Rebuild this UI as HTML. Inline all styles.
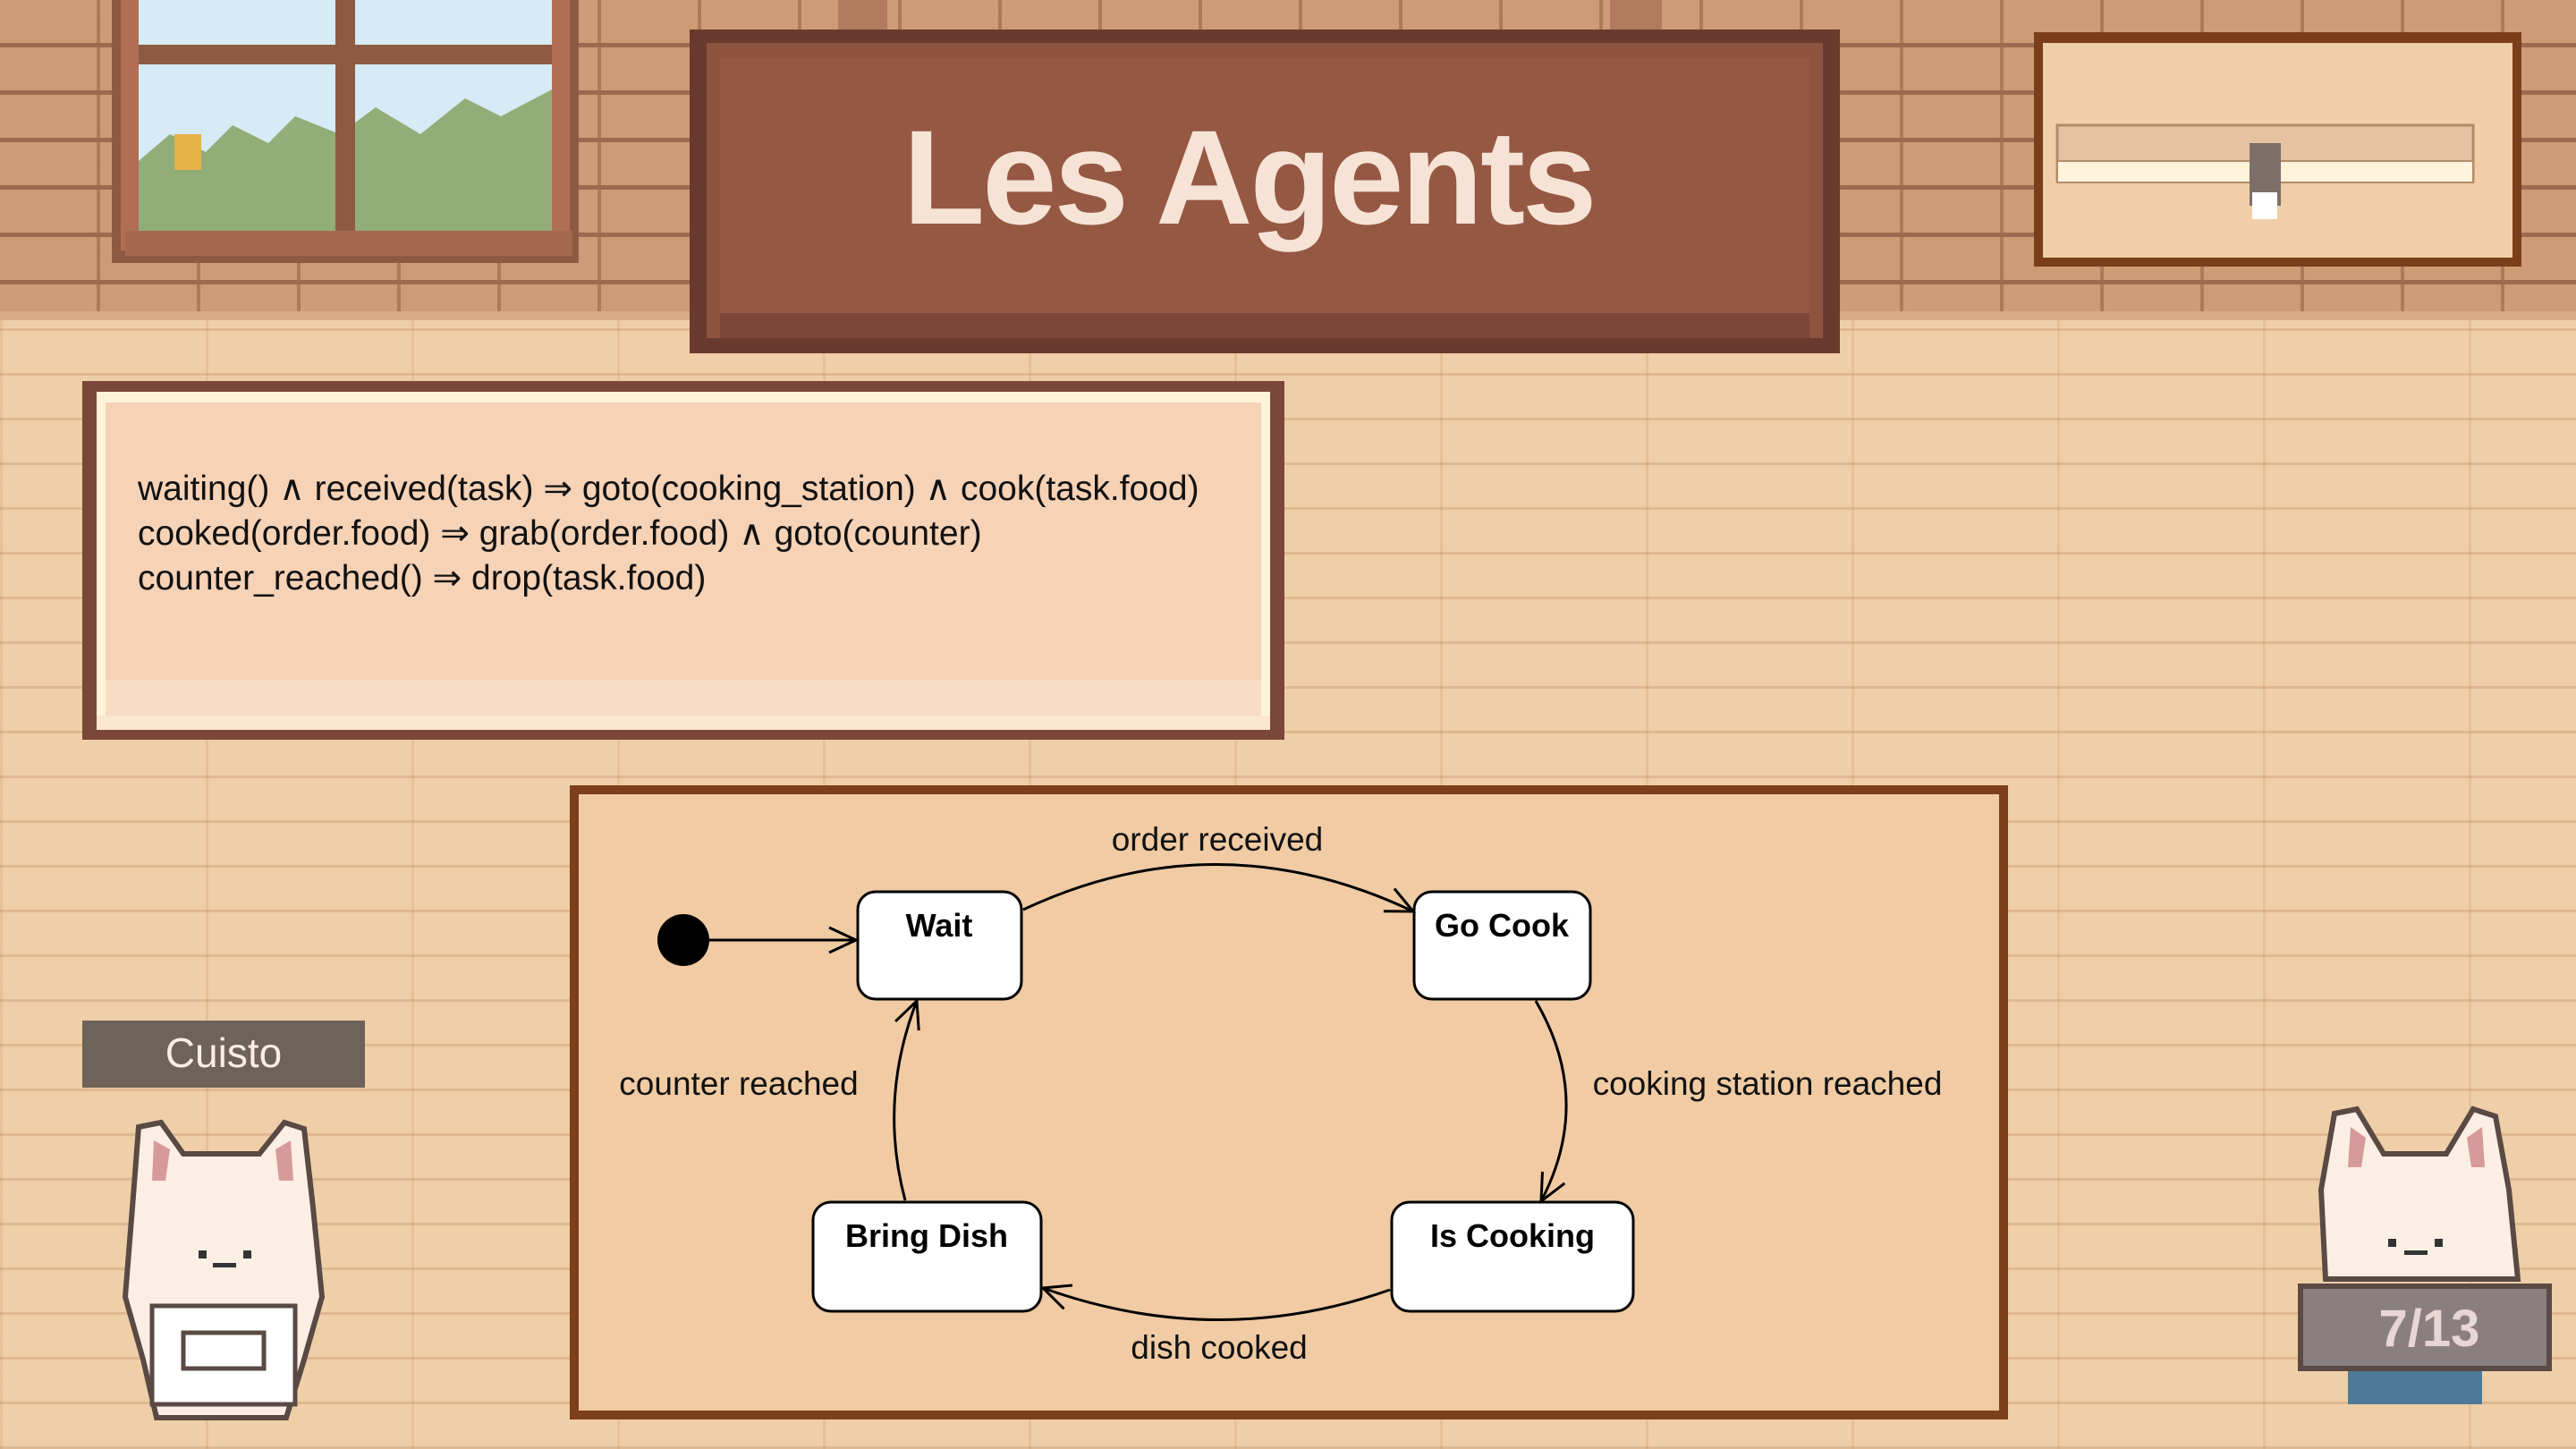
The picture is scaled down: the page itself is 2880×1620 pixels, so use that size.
<!DOCTYPE html>
<html><head><meta charset="utf-8"><style>
html,body{margin:0;padding:0;width:2880px;height:1620px;overflow:hidden;}
body{position:relative;font-family:"Liberation Sans",sans-serif;}
.bg{position:absolute;left:0;top:0;width:2880px;height:1620px;
background:
repeating-linear-gradient(0deg, rgba(190,140,100,0.35) 0 3px, transparent 3px 50px),
repeating-linear-gradient(90deg, rgba(200,150,110,0.25) 0 3px, transparent 3px 230px),
#efcfa8;}
.wall{position:absolute;left:0;top:0;width:2880px;height:358px;
background:
repeating-linear-gradient(180deg, transparent 0 48px, #9c6a4e 48px 53px),
repeating-linear-gradient(90deg, transparent 0 108px, rgba(140,90,60,0.5) 108px 112px),
#cf9b77;}
.wall:after{content:"";position:absolute;left:0;bottom:0;width:100%;height:10px;background:#d9ab84;}
</style></head><body>
<div class="bg"></div>
<div class="wall"></div>
<svg width="2880" height="1620" style="position:absolute;left:0;top:0" xmlns="http://www.w3.org/2000/svg">
<defs>
<marker id="ar2" markerWidth="36" markerHeight="36" refX="32" refY="18" orient="auto" markerUnits="userSpaceOnUse" viewBox="0 0 36 36">
<path d="M2,4 L32,18 L2,32" fill="none" stroke="#000" stroke-width="3"/>
</marker>
</defs>
<!-- window -->
<rect x="125" y="0" width="522" height="294" fill="#8e5a44"/>
<rect x="135" y="0" width="502" height="280" fill="#b06f52"/>
<rect x="155" y="0" width="462" height="258" fill="#d6ebf5"/>
<path d="M155,180 L190,150 L230,170 L260,140 L300,160 L330,130 L380,150 L420,120 L470,150 L520,110 L560,130 L617,100 L617,258 L155,258Z" fill="#93ad78"/>
<rect x="155" y="50" width="462" height="22" fill="#8e5a44"/>
<rect x="375" y="0" width="22" height="258" fill="#8e5a44"/>
<rect x="195" y="150" width="30" height="40" fill="#e6b24a"/>
<rect x="140" y="258" width="500" height="28" fill="#a46a50"/>
<!-- poles -->
<rect x="937" y="0" width="55" height="40" fill="#b27b5e"/>
<rect x="1800" y="0" width="58" height="40" fill="#b27b5e"/>
<!-- sign -->
<rect x="771" y="33" width="1286" height="362" fill="#6b3a2e"/>
<rect x="790" y="48" width="1248" height="330" fill="#8e5440"/>
<rect x="805" y="65" width="1218" height="290" fill="#955842"/>
<rect x="805" y="350" width="1218" height="28" fill="#7d4637"/>
<text x="1396" y="250" text-anchor="middle" font-family="Liberation Sans, sans-serif" font-weight="bold" font-size="150" fill="#f6e3d6" letter-spacing="-3">Les Agents</text>
<!-- minimap -->
<rect x="2274" y="36" width="545" height="262" fill="#7b3e1a"/>
<rect x="2284" y="48" width="525" height="240" fill="#f0cfa8"/>
<rect x="2300" y="140" width="465" height="62" fill="#e6c3a0" stroke="#b38a6a" stroke-width="3"/>
<rect x="2300" y="180" width="465" height="24" fill="#fff3dc" stroke="#b38a6a" stroke-width="2"/>
<rect x="2515" y="160" width="35" height="70" fill="#7d6e6a"/>
<rect x="2518" y="215" width="28" height="30" fill="#fff"/>
<!-- rule box -->
<rect x="92" y="426" width="1344" height="401" fill="#7a473a"/>
<rect x="108" y="438" width="1312" height="378" fill="#fff3d8"/>
<rect x="118" y="450" width="1292" height="310" fill="#f6d2b6"/>
<rect x="118" y="760" width="1292" height="40" fill="#f8dcc4"/>
<rect x="108" y="800" width="1312" height="16" fill="#fbe6cf"/>
<g font-family="Liberation Sans, sans-serif" font-size="39" fill="#111">
<text x="154" y="559">waiting() ∧ received(task) ⇒ goto(cooking_station) ∧ cook(task.food)</text>
<text x="154" y="609">cooked(order.food) ⇒ grab(order.food) ∧ goto(counter)</text>
<text x="154" y="659">counter_reached() ⇒ drop(task.food)</text>
</g>
<!-- diagram frame -->
<rect x="642" y="883" width="1598" height="699" fill="#f0cba3" stroke="#7e3f1c" stroke-width="10"/>
<circle cx="764" cy="1051" r="29" fill="#000"/>
<g fill="#fff" stroke="#000" stroke-width="3">
<rect x="959" y="997" width="183" height="120" rx="20"/>
<rect x="1581" y="997" width="197" height="120" rx="20"/>
<rect x="1556" y="1344" width="270" height="122" rx="20"/>
<rect x="909" y="1344" width="255" height="122" rx="20"/>
</g>
<g font-family="Liberation Sans, sans-serif" font-weight="bold" font-size="36" fill="#000" text-anchor="middle">
<text x="1050" y="1047">Wait</text>
<text x="1679" y="1047">Go Cook</text>
<text x="1691" y="1394">Is Cooking</text>
<text x="1036" y="1394">Bring Dish</text>
</g>
<g fill="none" stroke="#000" stroke-width="3">
<path d="M793,1051 L957,1051" marker-end="url(#ar2)"/>
<path d="M1144,1017 Q1361,915 1580,1019" marker-end="url(#ar2)"/>
<path d="M1717,1119 Q1782,1230 1723,1343" marker-end="url(#ar2)"/>
<path d="M1554,1442 Q1361,1510 1166,1440" marker-end="url(#ar2)"/>
<path d="M1012,1342 Q982,1230 1025,1119" marker-end="url(#ar2)"/>
</g>
<g font-family="Liberation Sans, sans-serif" font-size="37" fill="#111" text-anchor="middle">
<text x="1361" y="951">order received</text>
<text x="826" y="1224">counter reached</text>
<text x="1976" y="1224">cooking station reached</text>
<text x="1363" y="1519">dish cooked</text>
</g>
<!-- Cuisto -->
<rect x="92" y="1141" width="316" height="75" fill="#6e6358"/>
<text x="250" y="1193" text-anchor="middle" font-family="Liberation Sans, sans-serif" font-size="46" fill="#fbeee0">Cuisto</text>
<!-- left cat -->
<g>
<path d="M155,1260 L180,1255 L205,1290 L290,1290 L318,1255 L340,1262 L350,1350 L360,1450 L340,1520 L320,1585 L175,1585 L160,1520 L140,1450 L148,1350Z" fill="#fbefe4" stroke="#5a4a44" stroke-width="6"/>
<path d="M172,1275 L190,1285 L185,1320 L170,1320Z" fill="#d79a9a"/>
<path d="M325,1275 L308,1285 L312,1320 L328,1320Z" fill="#d79a9a"/>
<rect x="222" y="1398" width="9" height="9" fill="#333"/><rect x="272" y="1398" width="9" height="9" fill="#333"/>
<rect x="238" y="1412" width="26" height="5" fill="#333"/>
<rect x="170" y="1460" width="160" height="110" fill="#fff" stroke="#5a4a44" stroke-width="5"/>
<rect x="205" y="1490" width="90" height="40" fill="#fff" stroke="#5a4a44" stroke-width="5"/>
</g>
<!-- right cat -->
<g>
<path d="M2610,1245 L2635,1240 L2665,1290 L2735,1290 L2765,1240 L2790,1248 L2805,1330 L2815,1430 L2600,1430 L2595,1330Z" fill="#fbefe4" stroke="#5a4a44" stroke-width="6"/>
<path d="M2628,1260 L2645,1272 L2640,1305 L2625,1305Z" fill="#d79a9a"/>
<path d="M2775,1260 L2758,1272 L2763,1305 L2778,1305Z" fill="#d79a9a"/>
<rect x="2670" y="1385" width="9" height="9" fill="#333"/><rect x="2722" y="1385" width="9" height="9" fill="#333"/>
<rect x="2688" y="1398" width="26" height="5" fill="#333"/>
<rect x="2625" y="1520" width="150" height="50" fill="#4d7a96"/>
<rect x="2572" y="1438" width="278" height="92" fill="#8a7f80" stroke="#5a4a44" stroke-width="6"/>
<text x="2716" y="1505" text-anchor="middle" font-family="Liberation Sans, sans-serif" font-weight="bold" font-size="58" fill="#e8d6d6">7/13</text>
</g>
</svg>
</body></html>
